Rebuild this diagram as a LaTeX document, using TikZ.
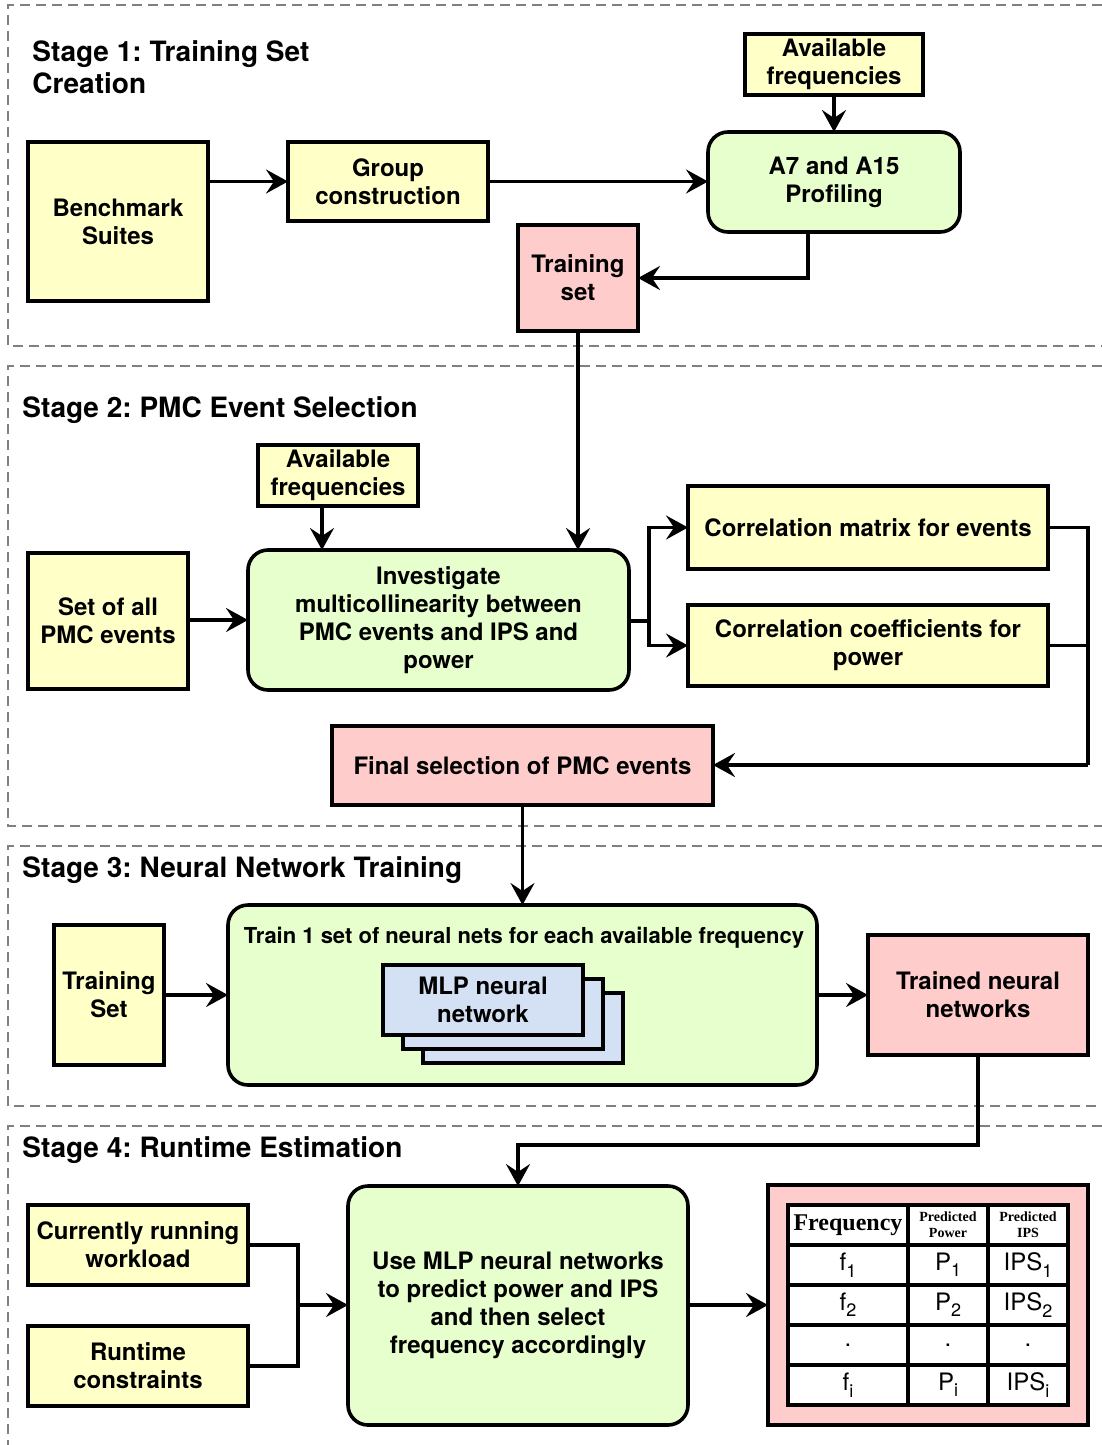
\documentclass[tikz,border=0pt]{standalone}
\usepackage{fontspec}
\setmainfont{TeX Gyre Heros}
\newfontfamily\tabfont{Liberation Serif}
\usetikzlibrary{arrows.meta,calc}
\definecolor{yfill}{HTML}{FFFFC8}
\definecolor{gfill}{HTML}{E6FFCC}
\definecolor{pfill}{HTML}{FFCCCC}
\definecolor{bfill}{HTML}{D4E1F5}
\definecolor{stagegray}{HTML}{808080}
% \bx{style}{name}{x1}{y1}{x2}{y2}{text}: box spanning the given corners
\newcommand{\bx}[7]{%
  \node[#1, minimum width={(#5-#3)*0.5pt}, minimum height={(#6-#4)*0.5pt}]
    (#2) at ({(#3+#5)/2},{(#4+#6)/2}) {#7};}
% lowered index for the table entries
\newcommand{\idx}[1]{\raisebox{-3.2pt}{\fontsize{9}{9}\selectfont #1}}
\frenchspacing
\begin{document}
\begin{tikzpicture}[x=0.5pt,y=-0.5pt,
  box/.style={draw, line width=1.8pt, inner sep=0pt, outer sep=0pt, align=center,
    font=\bfseries\fontsize{12}{14}\selectfont},
  ybox/.style={box, fill=yfill},
  gbox/.style={box, fill=gfill, rounded corners=10pt},
  pbox/.style={box, fill=pfill},
  mlpbox/.style={box, fill=bfill},
  cell/.style={draw, line width=1.6pt, fill=white, inner sep=0pt, outer sep=0pt,
    align=center, font=\fontsize{12}{14}\selectfont},
  conn/.style={line width=1.6pt},
  arr/.style={line width=1.6pt, -{Stealth[length=11pt,width=12pt,inset=4pt]}},
  stage/.style={draw=stagegray, line width=1.3pt, dash pattern=on 5pt off 3pt},
  title/.style={anchor=west, inner sep=0pt, align=left,
    font=\bfseries\fontsize{14}{16}\selectfont}]
\useasboundingbox (0,0) rectangle (1102,1445);

% stage frames
\draw[stage] (1102,5) -- (8,5) -- (8,346) -- (1102,346);
\draw[stage] (1102,366) -- (8,366) -- (8,826) -- (1102,826);
\draw[stage] (1102,846) -- (8,846) -- (8,1106) -- (1102,1106);
\draw[stage] (1102,1126) -- (8,1126) -- (8,1445);

\node[title] (t1) at (32,67) {Stage 1: Training Set\\Creation};
\node[title] (t2) at (22,410) {Stage 2: PMC Event Selection};
\node[title] (t3) at (22,870) {Stage 3: Neural Network Training};
\node[title] (t4) at (22,1150) {Stage 4: Runtime Estimation};

% stage 1
\bx{ybox}{bench}{28}{142}{208}{301}{Benchmark\\Suites}
\bx{ybox}{grp}{288}{142}{488}{221}{Group\\construction}
\bx{ybox}{af1}{745}{34}{923}{95}{Available\\frequencies}
\bx{gbox}{a7}{708}{132}{960}{232}{A7 and A15\\Profiling}
\bx{pbox}{tset}{518}{225}{638}{331}{Training\\set}

\draw[arr] (bench.east |- grp) -- (grp.west);
\draw[arr] (grp.east) -- (grp.east -| a7.west);
\draw[arr] (af1.south -| a7.north) -- (a7.north);
\draw[arr] ([xshift=-13pt]a7.south) |- (tset.east);

% stage 2
\bx{ybox}{af2}{258}{445}{418}{506}{Available\\frequencies}
\bx{ybox}{allpmc}{28}{553}{188}{689}{Set of all\\PMC events}
\bx{gbox}{inv}{248}{550}{629}{690}{Investigate\\multicollinearity between\\PMC events and IPS and\\power}
\bx{ybox}{cm}{688}{486}{1048}{569}{Correlation matrix for events}
\bx{ybox}{cc}{688}{605}{1048}{686}{Correlation coefficients for\\power}
\bx{pbox}{fin}{332}{726}{713}{805}{Final selection of PMC events}

\draw[arr] (tset.south) -- (tset.south |- inv.north);
\draw[arr] (af2.south -| 322,0) -- (322,550);
\draw[arr] (allpmc.east |- inv) -- (inv.west);
\coordinate (split) at (649,621);
\draw[conn] (inv.east |- split) -- (split);
\draw[arr] (split) |- (cm.west);
\draw[arr] (split) |- (cc.west);
\coordinate (rj) at (1088,765);
\draw[conn] (cm.east) -- (cm.east -| rj) -- (rj);
\draw[conn] (cc.east) -- (cc.east -| rj);
\draw[arr] (rj) -- (fin.east |- rj);

% stage 3
\bx{ybox}{ts3}{54}{925}{164}{1065}{Training\\Set}
\bx{gbox}{nn}{228}{905}{817}{1085}{}
\node[font=\bfseries\fontsize{11}{13}\selectfont, inner sep=0pt] (nnlab) at (524,938)
  {Train 1 set of neural nets for each available frequency};
\bx{mlpbox}{mlp3}{423}{993}{623}{1063}{}
\bx{mlpbox}{mlp2}{403}{979}{603}{1049}{}
\bx{mlpbox}{mlp1}{383}{965}{583}{1035}{MLP neural\\network}
\bx{pbox}{trn}{868}{935}{1088}{1055}{Trained neural\\networks}

\draw[arr] (fin.south) -- (fin.south |- nn.north);
\draw[arr] (ts3.east) -- (ts3.east -| nn.west);
\draw[arr] (nn.east |- trn) -- (trn.west);

% stage 4
\bx{ybox}{cur}{28}{1205}{248}{1285}{Currently running\\workload}
\bx{ybox}{rtc}{28}{1326}{248}{1406}{Runtime\\constraints}
\bx{gbox}{use}{348}{1186}{688}{1425}{Use MLP neural networks\\to predict power and IPS\\and then select\\frequency accordingly}
\bx{pbox}{tab}{768}{1185}{1088}{1425}{}

\draw[arr] (trn.south) |- ([yshift=20.5pt]use.north) -- (use.north);
\coordinate (jn) at (298,1305);
\draw[conn] (cur.east) -| (jn);
\draw[conn] (rtc.east) -| (jn);
\draw[arr] (jn) -- (jn -| use.west);
\draw[arr] (use.east |- tab) -- (tab.west);

% result table
\bx{cell, font=\tabfont\bfseries\fontsize{12}{14}\selectfont}{h1}{788}{1205}{908}{1245}{Frequency}
\bx{cell, font=\tabfont\bfseries\fontsize{7}{8}\selectfont}{h2}{908}{1205}{988}{1245}{Predicted\\Power}
\bx{cell, font=\tabfont\bfseries\fontsize{7}{8}\selectfont}{h3}{988}{1205}{1068}{1245}{Predicted\\IPS}
\bx{cell}{a1}{788}{1245}{908}{1285}{f\idx{1}}
\bx{cell}{b1}{908}{1245}{988}{1285}{P\idx{1}}
\bx{cell}{c1}{988}{1245}{1068}{1285}{IPS\idx{1}}
\bx{cell}{a2}{788}{1285}{908}{1325}{f\idx{2}}
\bx{cell}{b2}{908}{1285}{988}{1325}{P\idx{2}}
\bx{cell}{c2}{988}{1285}{1068}{1325}{IPS\idx{2}}
\bx{cell}{a3}{788}{1325}{908}{1365}{.}
\bx{cell}{b3}{908}{1325}{988}{1365}{.}
\bx{cell}{c3}{988}{1325}{1068}{1365}{.}
\bx{cell}{a4}{788}{1365}{908}{1405}{f\idx{i}}
\bx{cell}{b4}{908}{1365}{988}{1405}{P\idx{i}}
\bx{cell}{c4}{988}{1365}{1068}{1405}{IPS\idx{i}}
\draw[line width=2.2pt] (h1.north west) rectangle (c4.south east);
\end{tikzpicture}
\end{document}
